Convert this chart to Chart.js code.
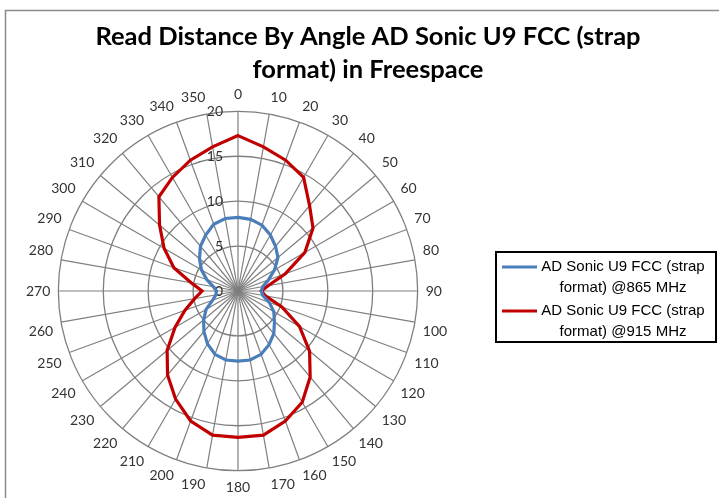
<!DOCTYPE html>
<html>
<head>
<meta charset="utf-8">
<script src="https://cdn.jsdelivr.net/npm/chart.js@4"></script>
<style>
  html, body { margin: 0; padding: 0; background: #fff; }
  #caixa { position: relative; width: 719px; height: 498px; }
</style>
</head>
<body>
<div id="caixa"><canvas id="grafico" width="719" height="498"></canvas></div>
<script>
var angulos = ["0", "10", "20", "30", "40", "50", "60", "70", "80", "90", "100", "110",
  "120", "130", "140", "150", "160", "170", "180", "190", "200", "210", "220", "230",
  "240", "250", "260", "270", "280", "290", "300", "310", "320", "330", "340", "350"];

var dist865 = [8.2, 8.1, 7.8, 7.2, 6.5, 5.8, 4.7, 3.6, 2.8, 2.6, 2.8, 3.7,
  4.6, 5.3, 6.2, 6.9, 7.5, 7.8, 7.8, 7.8, 7.5, 6.8, 5.9, 5.0,
  4.1, 3.0, 2.5, 2.4, 2.8, 3.7, 4.7, 5.6, 6.5, 7.2, 7.9, 8.2];

var dist915 = [17.3, 16.3, 15.5, 14.6, 12.4, 10.9, 8.6, 5.6, 3.4, 2.6, 3.1, 5.2,
  7.9, 10.4, 12.5, 14.3, 15.4, 16.3, 16.3, 16.3, 15.4, 13.9, 12.2, 10.3,
  8.1, 6.3, 4.9, 4.0, 5.3, 7.6, 9.5, 11.4, 13.7, 14.6, 15.5, 16.3];

var ticksRaio = [0, 5, 10, 15, 20];

var titulo = ["Read Distance By Angle AD Sonic U9 FCC (strap", "format) in Freespace"];
var legenda865 = ["AD Sonic U9 FCC (strap", "format) @865 MHz"];
var legenda915 = ["AD Sonic U9 FCC (strap", "format) @915 MHz"];

var corAzul = "#4a7ebb";
var corVermelha = "#c00000";

// moldura, titulo e legenda em caixa (como no Excel)
var pluginMoldura = {
  id: "moldura",
  beforeDraw: function (chart) {
    var ctx = chart.ctx;
    ctx.save();
    ctx.strokeStyle = "#8c8c8c";
    ctx.lineWidth = 1.5;
    ctx.strokeRect(5.5, 10.5, 730, 500);
    ctx.restore();
  },
  afterDraw: function (chart) {
    var ctx = chart.ctx;
    ctx.save();
    ctx.fillStyle = "#000";
    ctx.textAlign = "center";
    ctx.textBaseline = "middle";
    ctx.font = "bold 25.5px Lato";
    ctx.fillText(titulo[0], 368, 37);
    ctx.fillText(titulo[1], 368, 70);

    ctx.strokeStyle = "#000";
    ctx.lineWidth = 2;
    ctx.strokeRect(496, 252, 220, 90);

    var itens = [
      { cor: corAzul, linhas: legenda865, y: 267 },
      { cor: corVermelha, linhas: legenda915, y: 311 },
    ];
    ctx.font = "15px 'Liberation Sans'";
    for (var i = 0; i < itens.length; i++) {
      ctx.strokeStyle = itens[i].cor;
      ctx.lineWidth = 3;
      ctx.beginPath();
      ctx.moveTo(502, itens[i].y);
      ctx.lineTo(537, itens[i].y);
      ctx.stroke();
      ctx.fillStyle = "#000";
      ctx.fillText(itens[i].linhas[0], 623, itens[i].y);
      ctx.fillText(itens[i].linhas[1], 623, itens[i].y + 21);
    }
    ctx.restore();
  },
};

// rotulos do eixo radial ao lado esquerdo do raio de 0 grau
var pluginTicks = {
  id: "ticksRaio",
  beforeDatasetsDraw: function (chart) {
    var escala = chart.scales.r;
    var ctx = chart.ctx;
    ctx.save();
    ctx.fillStyle = "#333";
    ctx.font = "14px Lato";
    ctx.textAlign = "right";
    ctx.textBaseline = "middle";
    for (var i = 0; i < ticksRaio.length; i++) {
      var d = escala.getDistanceFromCenterForValue(ticksRaio[i]);
      ctx.fillText(String(ticksRaio[i]), escala.xCenter - 15, escala.yCenter - d);
    }
    ctx.restore();
  },
};

new Chart(grafico, {
  type: "radar",
  data: {
    labels: angulos,
    datasets: [
      {
        label: legenda865.join(" "),
        data: dist865,
        borderColor: corAzul,
        backgroundColor: corAzul,
        borderWidth: 3.2,
        pointRadius: 0,
        fill: false,
        tension: 0,
      },
      {
        label: legenda915.join(" "),
        data: dist915,
        borderColor: corVermelha,
        backgroundColor: corVermelha,
        borderWidth: 3.2,
        pointRadius: 0,
        fill: false,
        tension: 0,
      },
    ],
  },
  options: {
    responsive: false,
    animation: false,
    layout: {
      padding: { top: 85, bottom: 1, left: 25, right: 270 },
    },
    scales: {
      r: {
        min: 0,
        max: 20,
        ticks: {
          stepSize: 5,
          display: false,
        },
        grid: {
          circular: true,
          color: "#7f7f7f",
          lineWidth: 1.3,
        },
        angleLines: {
          color: "#7f7f7f",
          lineWidth: 1.2,
        },
        pointLabels: {
          color: "#333",
          padding: 8,
          font: {
            family: "Lato",
            size: 14,
          },
        },
      },
    },
    plugins: {
      legend: { display: false },
      tooltip: { enabled: false },
      title: { display: false },
    },
  },
  plugins: [pluginMoldura, pluginTicks],
});
</script>
</body>
</html>
